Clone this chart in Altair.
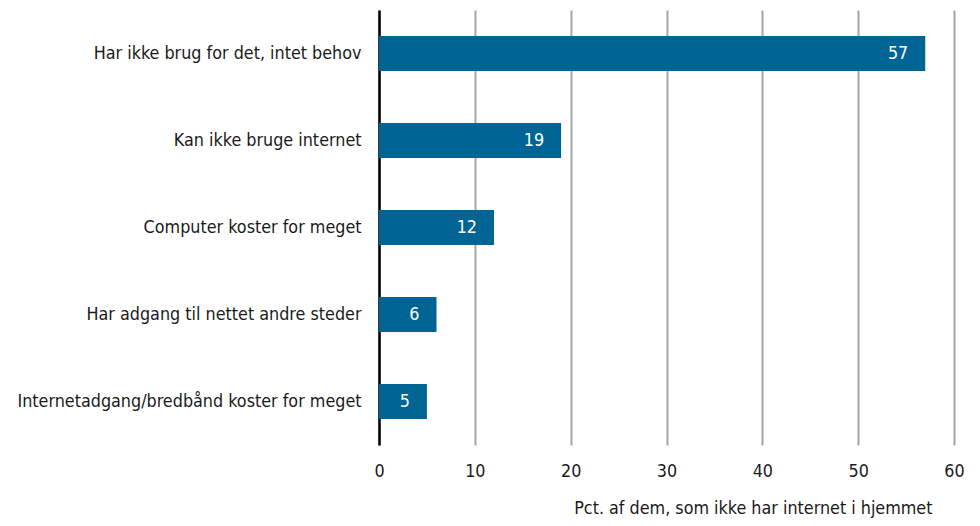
import altair as alt
import pandas as pd

categories = [
    "Har ikke brug for det, intet behov",
    "Kan ikke bruge internet",
    "Computer koster for meget",
    "Har adgang til nettet andre steder",
    "Internetadgang/bredbånd koster for meget",
]
values = [57, 19, 12, 6, 5]
x_ticks = [0, 10, 20, 30, 40, 50, 60]

df = pd.DataFrame({"cat": categories, "val": values})

FONT = "DejaVu Sans Condensed"
FS = 17.8

y_enc = alt.Y("cat:N", sort=categories, title=None,
              scale=alt.Scale(paddingInner=0.6, paddingOuter=0.3),
              axis=alt.Axis(ticks=False, domain=True, domainColor="#000000", domainWidth=2.5,
                            labelFontSize=FS, labelFont=FONT, labelColor="#1a1a1a",
                            labelPadding=18, labelLimit=400, grid=False))

x_enc = alt.X("val:Q", title="Pct. af dem, som ikke har internet i hjemmet",
              scale=alt.Scale(domain=[0, 60], nice=False),
              axis=alt.Axis(values=x_ticks, ticks=False, domain=False, grid=True,
                            gridColor="#a6a6a6", gridWidth=2,
                            labelFontSize=FS, labelFont=FONT, labelColor="#1a1a1a",
                            labelPadding=17, labelFlush=False,
                            titleFontSize=FS, titleFont=FONT, titleFontWeight="normal",
                            titleColor="#1a1a1a", titleAlign="right", titleAnchor="end",
                            titleX=553, titleY=68, titleBaseline="alphabetic"))

bars = alt.Chart(df).mark_bar(color="#006494").encode(x=x_enc, y=y_enc)

labels = alt.Chart(df).mark_text(align="right", baseline="middle", dx=-17,
                                 color="white", fontSize=FS, font=FONT).encode(
    x="val:Q", y=alt.Y("cat:N", sort=categories), text="val:Q")

chart = (bars + labels).properties(
    width=575, height=435,
    autosize=alt.AutoSizeParams(type="none"),
    padding={"left": 371, "top": 2, "right": 10, "bottom": 80},
).configure_view(stroke=None)

chart.save("out.html", embed_options={"renderer": "svg", "actions": False})
